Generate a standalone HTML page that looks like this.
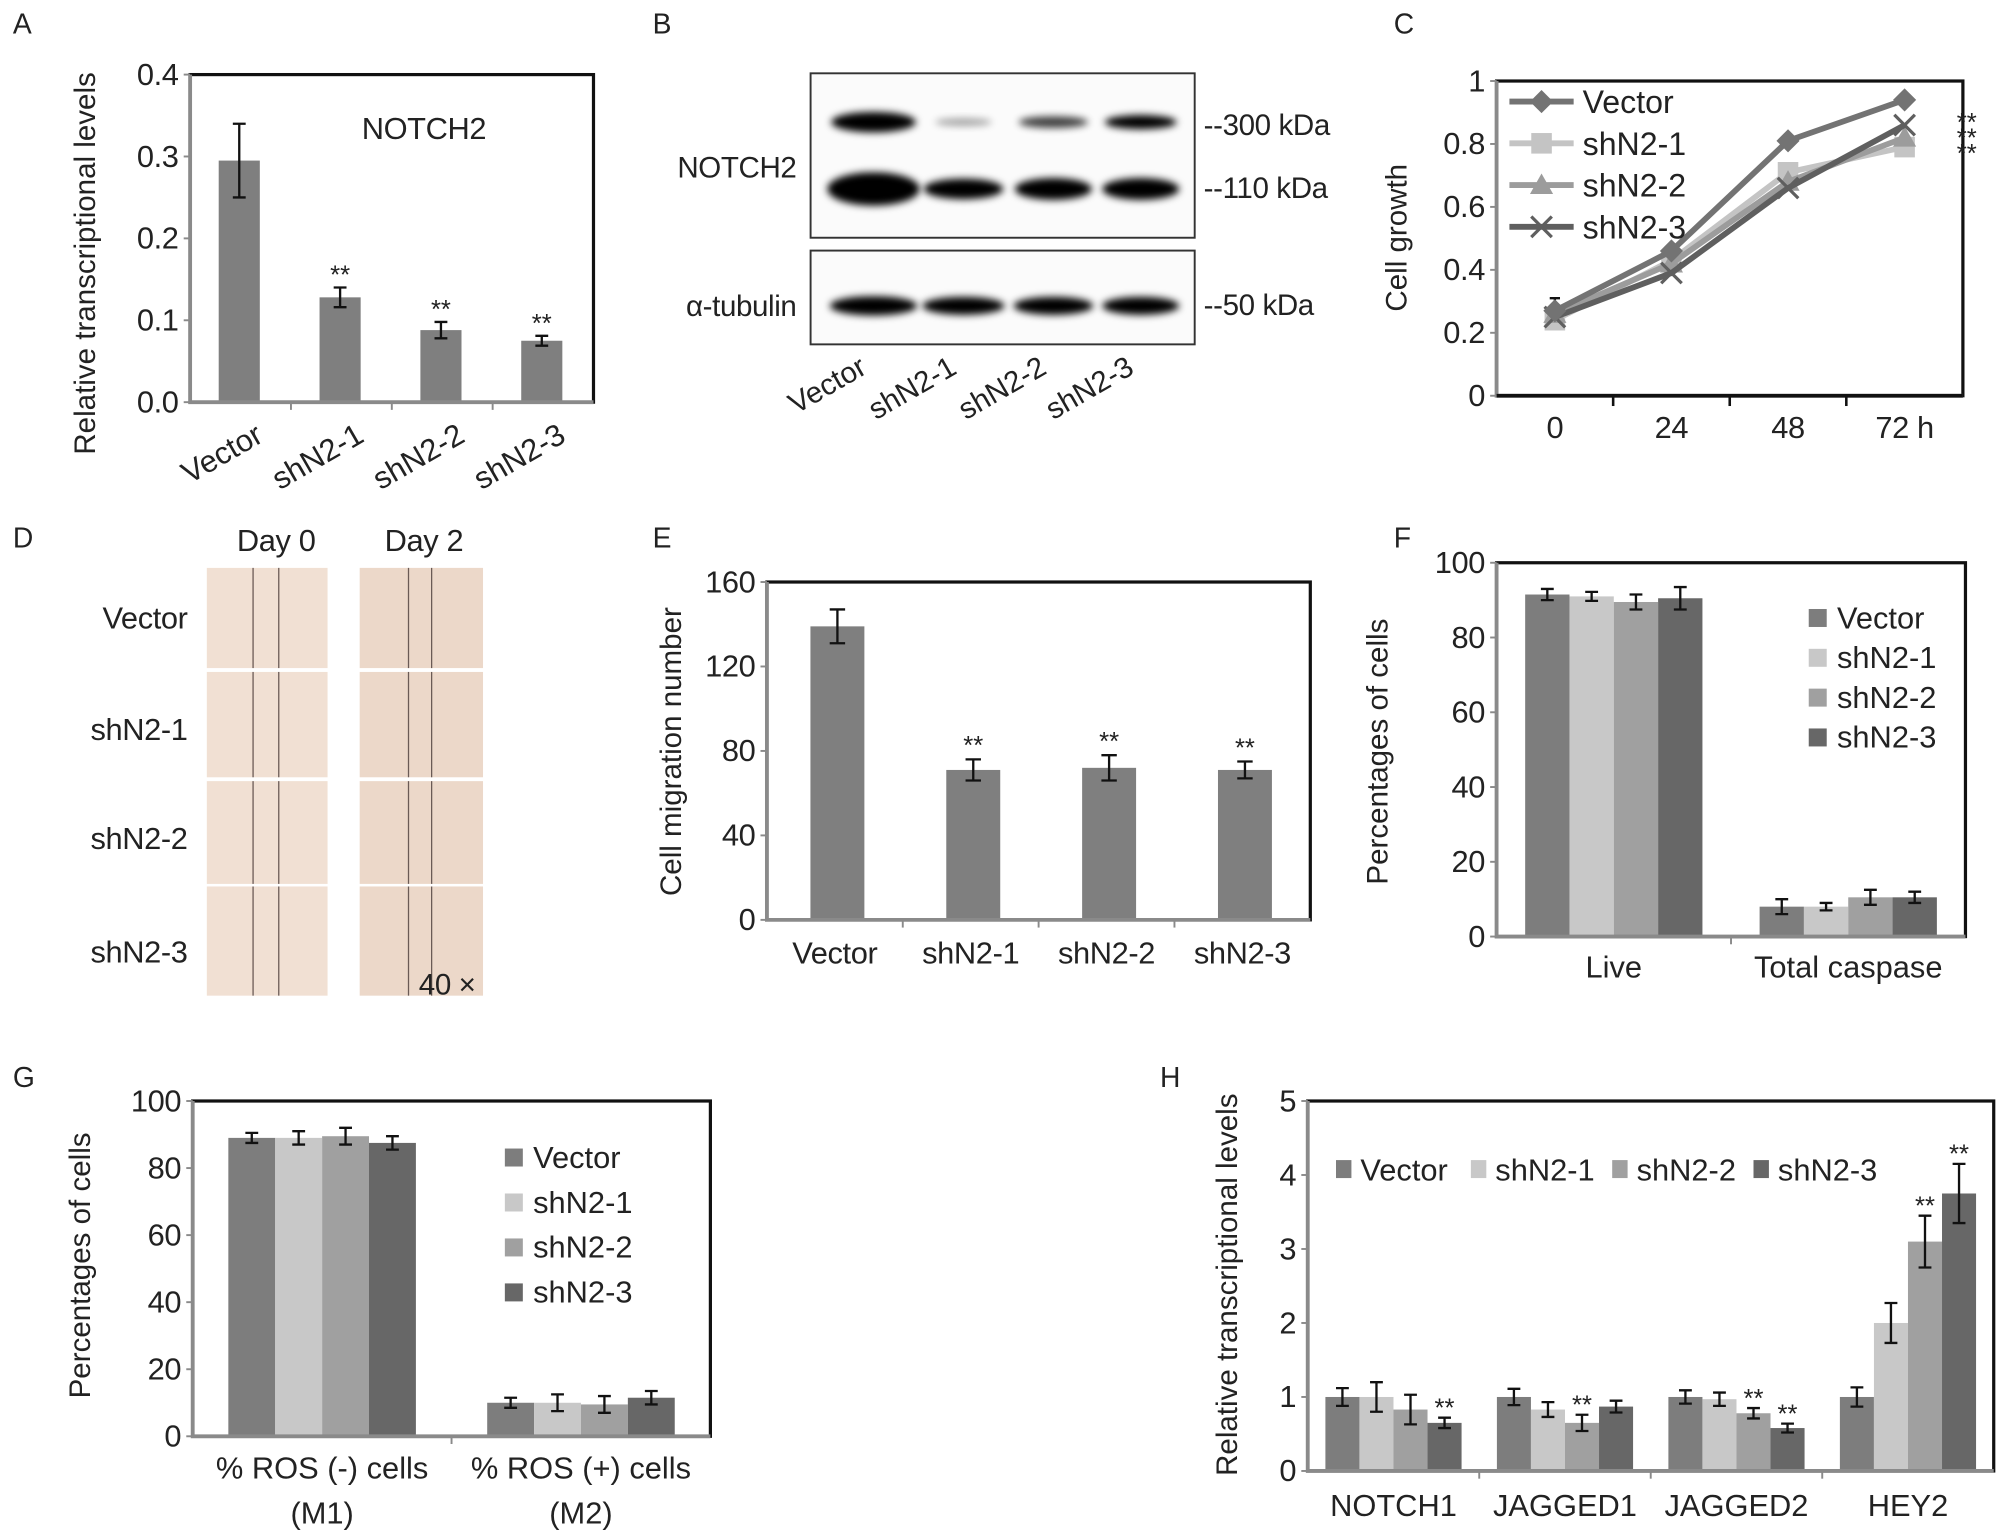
<!DOCTYPE html>
<html><head><meta charset="utf-8">
<style>
html,body{margin:0;padding:0;background:#fff;}
svg{display:block;}
text{font-family:"Liberation Sans Narrow","Liberation Sans",sans-serif;fill:#222;letter-spacing:-0.3px;}
.t{font-family:"Liberation Sans",sans-serif;letter-spacing:0;}
</style></head>
<body>
<svg id="fig" xmlns="http://www.w3.org/2000/svg" width="2004" height="1534" viewBox="0 0 1560 1194">
<defs>
<filter id="blur" x="-30%" y="-80%" width="160%" height="260%"><feGaussianBlur stdDeviation="3"/></filter>
</defs>
<g id="root"></g>
</svg>
<script>
// ---------- Panel A data ----------
const aCats = ["Vector","shN2-1","shN2-2","shN2-3"];
const aVals = [0.295,0.128,0.088,0.075];
const aErr = [0.045,0.012,0.010,0.006];
const aStars = [false,true,true,true];
const aTicks = ["0.0","0.1","0.2","0.3","0.4"];
// ---------- Panel C data ----------
const cTimes = ["0","24","48","72 h"];
const cNames = ["Vector","shN2-1","shN2-2","shN2-3"];
const cVector = [0.27,0.46,0.81,0.94];
const cShN21 = [0.24,0.43,0.71,0.79];
const cShN22 = [0.26,0.42,0.68,0.82];
const cShN23 = [0.25,0.39,0.66,0.86];
const cTicks = ["0","0.2","0.4","0.6","0.8","1"];
// ---------- Panel E data ----------
const eCats = ["Vector","shN2-1","shN2-2","shN2-3"];
const eVals = [139,71,72,71];
const eErr = [8,5,6,4];
const eStars = [false,true,true,true];
const eTicks = ["0","40","80","120","160"];
// ---------- Panel F data ----------
const fGroups = ["Live","Total caspase"];
const fSeries = ["Vector","shN2-1","shN2-2","shN2-3"];
const fVector = [91.5,8]; const fVectorErr=[1.5,2];
const fShN21 = [91,8]; const fShN21Err=[1.2,1];
const fShN22 = [89.5,10.5]; const fShN22Err=[2,2];
const fShN23 = [90.5,10.5]; const fShN23Err=[3,1.5];
const fTicks = ["0","20","40","60","80","100"];
// ---------- Panel G data ----------
const gGroups = [["% ROS (-) cells","(M1)"],["% ROS (+) cells","(M2)"]];
const gVector = [89,10]; const gVectorErr=[1.5,1.5];
const gShN21 = [89,10]; const gShN21Err=[2,2.5];
const gShN22 = [89.5,9.5]; const gShN22Err=[2.5,2.5];
const gShN23 = [87.5,11.5]; const gShN23Err=[2,2];
const gTicks = ["0","20","40","60","80","100"];
// ---------- Panel H data ----------
const hGroups = ["NOTCH1","JAGGED1","JAGGED2","HEY2"];
const hVector = [1,1,1,1]; const hVectorErr=[0.12,0.11,0.09,0.13];
const hShN21 = [1,0.83,0.97,2]; const hShN21Err=[0.2,0.1,0.09,0.27];
const hShN22 = [0.83,0.65,0.78,3.1]; const hShN22Err=[0.2,0.11,0.07,0.35];
const hShN23 = [0.65,0.87,0.58,3.75]; const hShN23Err=[0.07,0.08,0.06,0.4];
const hStarsS2 = [false,true,true,true];
const hStarsS3 = [true,false,true,true];
const hTicks = ["0","1","2","3","4","5"];

const NS="http://www.w3.org/2000/svg";
const root=document.getElementById('root');
function mk(tag,attrs,parent,txt){const e=document.createElementNS(NS,tag);for(const k in attrs)e.setAttribute(k,attrs[k]);if(txt!==undefined)e.textContent=txt;(parent||root).appendChild(e);return e;}
function lin(min,max,p0,p1){return v=>p0+(v-min)/(max-min)*(p1-p0);}
const seriesColors=["#7d7d7d","#c8c8c8","#a0a0a0","#676767"];

function frame(g,x0,y0,x1,y1,name){
  const r=mk('rect',{x:x0,y:y0,width:x1-x0,height:y1-y0,fill:'none',stroke:'#111','stroke-width':2.5},g);
  
  
  const l=mk('path',{d:`M${x0} ${y0} V${y1} H${x1}`,stroke:'#8a8a8a','stroke-width':3,fill:'none'},g);
  
  
}
function yTicks(g,ticks,y,x0,name,fs){
  ticks.forEach(t=>{const yy=y(parseFloat(t));
    const e=mk('text',{x:x0-9,y:yy+8,'text-anchor':'end','font-size':fs||24},g,t);
    
    
    mk('line',{x1:x0-5,x2:x0,y1:yy,y2:yy,stroke:'#8a8a8a','stroke-width':1.5},g);
  });
}
function yTitle(g,txt,x,y,name){
  const e=mk('text',{x:x,y:y,'text-anchor':'middle','font-size':23,class:'t',transform:`rotate(-90 ${x} ${y})`},g,txt);
  
  
}
function errBar(g,cx,yt,yb,w){
  mk('path',{d:`M${cx} ${yt}V${yb}M${cx-w} ${yt}H${cx+w}M${cx-w} ${yb}H${cx+w}`,stroke:'#111','stroke-width':1.8,fill:'none'},g);
}
function stars(g,cx,yy){
  const e=mk('text',{x:cx,y:yy,'text-anchor':'middle','font-size':20,class:'t',fill:'#333'},g,'**');
  
  
}
function letter(ch,x,y){
  const e=mk('text',{x:x,y:y,'font-size':22,class:'t'},root,ch);
  
  
}

// ================= Panel A =================
letter('A',10,26);
(function(){
  const g=mk('g',{});
  const x0=148,x1=462,y0=58,y1=313;
  const y=lin(0,0.4,y1,y0);
  const bw=(x1-x0)/aCats.length;
  aCats.forEach((c,i)=>{
    const cx=x0+bw*(i+0.5)-1;
    const b=mk('rect',{x:cx-16,y:y(aVals[i]),width:32,height:y1-y(aVals[i]),fill:'#7f7f7f'},g);
    
    
    errBar(g,cx,y(aVals[i]+aErr[i]),y(aVals[i]-aErr[i]),5);
    if(aStars[i])stars(g,cx,y(aVals[i]+aErr[i])-3);
    const t=mk('text',{x:cx+20,y:y1+30,'text-anchor':'end','font-size':24,class:'t',transform:`rotate(-30 ${cx+20} ${y1+30})`},g,c);
    
    
    if(i>0)mk('line',{x1:x0+bw*i,x2:x0+bw*i,y1:y1,y2:y1+6,stroke:'#8a8a8a','stroke-width':1.5},g);
  });
  frame(g,x0,y0,x1,y1,'panel-a');
  yTicks(g,aTicks,y,x0,'panel-a');
  yTitle(g,'Relative transcriptional levels',74,205,'panel-a');
  const n=mk('text',{x:330,y:108,'text-anchor':'middle','font-size':24},g,'NOTCH2');
  
  
})();

// ================= Panel B (western blot) =================
letter('B',508,26);
(function(){
  const g=mk('g',{});
  mk('rect',{x:631,y:57,width:299,height:128,fill:'#fbfbfb',stroke:'#333','stroke-width':1.5},g);
  mk('rect',{x:631,y:195,width:299,height:73,fill:'#fbfbfb',stroke:'#333','stroke-width':1.5},g);
  const lanes=[680,750,820,888];
  const top=[[66,16,1],[44,6,0.35],[54,9,0.75],[56,11,1]];
  const mid=[[72,26,1],[62,16,1],[60,17,1],[60,17,1]];
  const tub=[[68,15,1],[64,14,1],[62,14,1],[60,14,1]];
  lanes.forEach((x,i)=>{
    mk('ellipse',{cx:x,cy:95,rx:top[i][0]/2,ry:top[i][1]/2,fill:'#000',opacity:top[i][2],filter:'url(#blur)'},g);
    mk('ellipse',{cx:x,cy:147,rx:mid[i][0]/2,ry:mid[i][1]/2,fill:'#000',filter:'url(#blur)'},g);
    mk('ellipse',{cx:x,cy:238,rx:tub[i][0]/2,ry:tub[i][1]/2,fill:'#000',filter:'url(#blur)'},g);
  });
  [['NOTCH2',620,138],['α-tubulin',620,246]].forEach(a=>{const t=mk('text',{x:a[1],y:a[2],'text-anchor':'end','font-size':23},g,a[0]);});
  [['--300 kDa',105],['--110 kDa',154],['--50 kDa',245]].forEach(a=>{const t=mk('text',{x:937,y:a[1],'font-size':23},g,a[0]);});
  ['Vector','shN2-1','shN2-2','shN2-3'].forEach((c,i)=>{const x=lanes[i]-4,yy=290;const t=mk('text',{x:x,y:yy,'text-anchor':'end','font-size':23,class:'t',transform:`rotate(-30 ${x} ${yy})`},g,c);});
})();

// ================= Panel C (line chart) =================
letter('C',1085,26);
(function(){
  const g=mk('g',{});
  const x0=1165,x1=1528,y0=63,y1=308;
  const y=lin(0,1,y1,y0);
  const step=(x1-x0)/cTimes.length;
  const x=i=>x0+step*(i+0.5);
  frame(g,x0,y0,x1,y1,'panel-c');
  mk('line',{x1:x0,x2:x1,y1:y1,y2:y1,stroke:'#111','stroke-width':3},g);
  yTicks(g,cTicks,y,x0,'panel-c');
  cTimes.forEach((t,i)=>{if(i>0)mk('line',{x1:x0+step*i,x2:x0+step*i,y1:y1,y2:y1+8,stroke:'#111','stroke-width':2},g);
    const e=mk('text',{x:x(i),y:y1+33,'text-anchor':'middle','font-size':24},g,t);});
  yTitle(g,'Cell growth',1095,185,'panel-c');
  const all=[cVector,cShN21,cShN22,cShN23];
  const cols=["#737373","#c4c4c4","#9c9c9c","#5f5f5f"];
  errBar(g,x(0),y(cVector[0]+0.04),y(cVector[0]),4);
  function marker(k,cx,cy,gg){
    if(k===0)mk('path',{d:`M${cx} ${cy-9}L${cx+9} ${cy}L${cx} ${cy+9}L${cx-9} ${cy}Z`,fill:cols[k]},gg);
    else if(k===1)mk('rect',{x:cx-8,y:cy-8,width:16,height:16,fill:cols[k]},gg);
    else if(k===2)mk('path',{d:`M${cx} ${cy-9}L${cx+9} ${cy+7}L${cx-9} ${cy+7}Z`,fill:cols[k]},gg);
    else mk('path',{d:`M${cx-8} ${cy-8}L${cx+8} ${cy+8}M${cx+8} ${cy-8}L${cx-8} ${cy+8}`,stroke:cols[k],'stroke-width':2.5},gg);
  }
  [1,2,3,0].forEach(k=>{
    const d=all[k].map((v,i)=>(i?'L':'M')+x(i)+' '+y(v)).join('');
    const p=mk('path',{d:d,fill:'none',stroke:cols[k],'stroke-width':4.5},g);
    
    
    all[k].forEach((v,i)=>marker(k,x(i),y(v),g));
  });
  cNames.forEach((n,k)=>{const ly=79+k*32.5;
    mk('line',{x1:1175,x2:1225,y1:ly,y2:ly,stroke:cols[k],'stroke-width':4.5},g);
    marker(k,1200,ly,g);
    const t=mk('text',{x:1232,y:ly+9,'font-size':25,class:'t'},g,n);
    
    
  });
  [96,108,120].forEach(yy=>stars(g,1531,yy+6));
})();

// ================= Panel D (scratch images) =================
letter('D',10,426);
(function(){
  const g=mk('g',{});
  const rows=[[442,520],[523,605],[608,688],[690,775]];
  const names=['Vector','shN2-1','shN2-2','shN2-3'];
  [[161,255,197,217,'#f1e0d3'],[280,376,318,336,'#ecd8c9']].forEach((c,ci)=>{
    rows.forEach((r,ri)=>{
      const im=mk('rect',{x:c[0],y:r[0],width:c[1]-c[0],height:r[1]-r[0],fill:c[4]},g);
      
      
      mk('line',{x1:c[2],x2:c[2],y1:r[0],y2:r[1],stroke:'#6a5a55','stroke-width':1},g);
      mk('line',{x1:c[3],x2:c[3],y1:r[0],y2:r[1],stroke:'#6a5a55','stroke-width':1},g);
    });
  });
  [['Day 0',215],['Day 2',330]].forEach(a=>{const t=mk('text',{x:a[1],y:429,'text-anchor':'middle','font-size':24},g,a[0]);});
  [489,576,661,749].forEach((yy,i)=>{const t=mk('text',{x:146,y:yy,'text-anchor':'end','font-size':24},g,names[i]);});
  const m=mk('text',{x:326,y:774,'font-size':23},g,'40 ×');
})();

// ================= Panel E =================
letter('E',508,426);
(function(){
  const g=mk('g',{});
  const x0=597,x1=1020,y0=453,y1=716;
  const y=lin(0,160,y1,y0);
  const bw=(x1-x0)/eCats.length;
  eCats.forEach((c,i)=>{
    const cx=x0+bw*(i+0.5)+2;
    const b=mk('rect',{x:cx-21,y:y(eVals[i]),width:42,height:y1-y(eVals[i]),fill:'#7f7f7f'},g);
    
    
    errBar(g,cx,y(eVals[i]+eErr[i]),y(eVals[i]-eErr[i]),6);
    if(eStars[i])stars(g,cx,y(eVals[i]+eErr[i])-4);
    const t=mk('text',{x:cx-2,y:y1+34,'text-anchor':'middle','font-size':24},g,c);
    
    if(i>0)mk('line',{x1:x0+bw*i,x2:x0+bw*i,y1:y1,y2:y1+6,stroke:'#8a8a8a','stroke-width':1.5},g);
  });
  frame(g,x0,y0,x1,y1,'panel-e');
  yTicks(g,eTicks,y,x0,'panel-e');
  yTitle(g,'Cell migration number',530,585,'panel-e');
})();

// grouped bar helper
function grouped(g,groups,series,errs,x0,x1,y,y1,bw,gap){
  const gw=(x1-x0)/groups.length;
  groups.forEach((gr,gi)=>{
    const gc=x0+gw*(gi+0.5);
    const start=gc-bw*series.length/2;
    series.forEach((s,si)=>{
      const v=s[gi];
      const bx=start+si*bw;
      const b=mk('rect',{x:bx,y:y(v),width:bw-(gap||0),height:y1-y(v),fill:seriesColors[si]},g);
      
      
      errBar(g,bx+bw/2,y(v+errs[si][gi]),y(v-errs[si][gi]),5);
    });
    if(gi>0)mk('line',{x1:x0+gw*gi,x2:x0+gw*gi,y1:y1,y2:y1+6,stroke:'#8a8a8a','stroke-width':1.5},g);
  });
  return gw;
}
function legendV(g,x,ys,names,fs){
  names.forEach((n,i)=>{
    mk('rect',{x:x,y:ys[i]-8,width:14,height:14,fill:seriesColors[i]},g);
    const t=mk('text',{x:x+22,y:ys[i]+7,'font-size':fs||24,class:'t'},g,n);
    
    
  });
}

// ================= Panel F =================
letter('F',1085,426);
(function(){
  const g=mk('g',{});
  const x0=1165,x1=1530,y0=438,y1=729;
  const y=lin(0,100,y1,y0);
  const gw=grouped(g,fGroups,[fVector,fShN21,fShN22,fShN23],[fVectorErr,fShN21Err,fShN22Err,fShN23Err],x0,x1,y,y1,34.5);
  frame(g,x0,y0,x1,y1,'panel-f');
  yTicks(g,fTicks,y,x0,'panel-f');
  fGroups.forEach((n,i)=>{const t=mk('text',{x:x0+gw*(i+0.5),y:y1+32,'text-anchor':'middle','font-size':24,class:'t'},g,n);});
  legendV(g,1408,[482,513,544,575],fSeries);
  yTitle(g,'Percentages of cells',1080,585,'panel-f');
})();

// ================= Panel G =================
letter('G',10,846);
(function(){
  const g=mk('g',{});
  const x0=150,x1=553,y0=857,y1=1118;
  const y=lin(0,100,y1,y0);
  const gw=grouped(g,gGroups,[gVector,gShN21,gShN22,gShN23],[gVectorErr,gShN21Err,gShN22Err,gShN23Err],x0,x1,y,y1,36.5);
  frame(g,x0,y0,x1,y1,'panel-g');
  yTicks(g,gTicks,y,x0,'panel-g');
  gGroups.forEach((n,i)=>{n.forEach((ln,j)=>{const t=mk('text',{x:x0+gw*(i+0.5),y:y1+33+j*35,'text-anchor':'middle','font-size':24,class:'t'},g,ln);});});
  legendV(g,393,[902,937,972,1007],fSeries);
  yTitle(g,'Percentages of cells',70,985,'panel-g');
})();

// ================= Panel H =================
letter('H',903,846);
(function(){
  const g=mk('g',{});
  const x0=1018,x1=1552,y0=857,y1=1145;
  const y=lin(0,5,y1,y0);
  const bw=26.5;
  const gw=grouped(g,hGroups,[hVector,hShN21,hShN22,hShN23],[hVectorErr,hShN21Err,hShN22Err,hShN23Err],x0,x1,y,y1,bw);
  hGroups.forEach((n,i)=>{
    const gc=x0+gw*(i+0.5);
    if(hStarsS2[i])stars(g,gc+bw*0.5,y(hShN22[i]+hShN22Err[i])-1);
    if(hStarsS3[i])stars(g,gc+bw*1.5,y(hShN23[i]+hShN23Err[i])-1);
    const t=mk('text',{x:gc,y:y1+35,'text-anchor':'middle','font-size':24,class:'t'},g,n);
    
  });
  frame(g,x0,y0,x1,y1,'panel-h');
  yTicks(g,hTicks,y,x0,'panel-h');
  [[1040,'Vector'],[1145,'shN2-1'],[1255,'shN2-2'],[1365,'shN2-3']].forEach((a,i)=>{
    mk('rect',{x:a[0],y:903,width:12,height:14,fill:seriesColors[i]},g);
    const t=mk('text',{x:a[0]+19,y:919,'font-size':24,class:'t'},g,a[1]);
    
  });
  yTitle(g,'Relative transcriptional levels',963,1000,'panel-h');
})();
</script>
</body></html>
